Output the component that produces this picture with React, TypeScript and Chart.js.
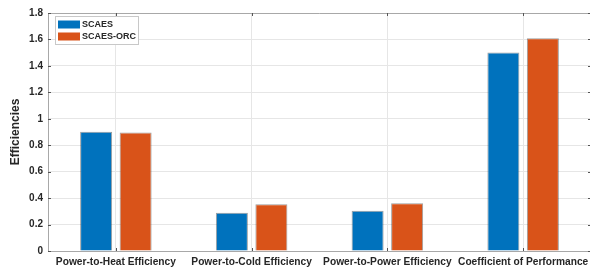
import React, { useEffect, useRef } from "react";
import { Chart, registerables } from "chart.js";

Chart.register(...registerables);

const categories = [
  "Power-to-Heat Efficiency",
  "Power-to-Cold Efficiency",
  "Power-to-Power Efficiency",
  "Coefficient of Performance",
];
const scaesValues = [0.902, 0.289, 0.304, 1.501];
const scaesOrcValues = [0.896, 0.354, 0.362, 1.609];
const seriesNames = ["SCAES", "SCAES-ORC"];
const yTicks = [0, 0.2, 0.4, 0.6, 0.8, 1, 1.2, 1.4, 1.6, 1.8];

const BLUE = "#0072BD";
const ORANGE = "#D95319";
const TEXT = "#262626";
const AXIS = "#a8a8a8";
const GRID = "#e6e6e6";
const FONT = "'Liberation Sans', Arial, Helvetica, sans-serif";

const boxPlugin = {
  id: "boxAndLegend",
  afterDraw(chart: any) {
    const { ctx, chartArea } = chart;
    const { left, right, top, bottom } = chartArea;
    ctx.save();
    ctx.strokeStyle = AXIS;
    ctx.lineWidth = 1;
    ctx.beginPath();
    ctx.moveTo(left, top + 0.5);
    ctx.lineTo(right, top + 0.5);
    ctx.moveTo(right - 0.5, top);
    ctx.lineTo(right - 0.5, bottom);
    ctx.stroke();
    ctx.strokeStyle = "#555";
    const xs = chart.scales.x;
    const ys = chart.scales.y;
    ctx.beginPath();
    for (let i = 0; i < categories.length; i++) {
      const px = Math.round(xs.getPixelForValue(i)) + 0.5;
      ctx.moveTo(px, top);
      ctx.lineTo(px, top + 3);
      ctx.moveTo(px, bottom);
      ctx.lineTo(px, bottom - 3);
    }
    for (const v of yTicks) {
      const py = Math.round(ys.getPixelForValue(v)) + 0.5;
      ctx.moveTo(right, py);
      ctx.lineTo(right - 3, py);
      ctx.moveTo(left, py);
      ctx.lineTo(left + 3, py);
    }
    ctx.stroke();
    const lx = 55, ly = 16, lw = 83, lh = 28;
    ctx.fillStyle = "#ffffff";
    ctx.fillRect(lx, ly, lw, lh);
    ctx.strokeStyle = "#c8c8c8";
    ctx.strokeRect(lx + 0.5, ly + 0.5, lw, lh);
    const colors = [BLUE, ORANGE];
    ctx.font = `bold 9px ${FONT}`;
    ctx.textBaseline = "middle";
    ctx.textAlign = "left";
    chart.data.datasets.forEach((ds: any, i: number) => {
      const sy = ly + 4.5 + i * 12;
      ctx.fillStyle = colors[i];
      ctx.fillRect(lx + 3, sy, 22, 8);
      ctx.fillStyle = TEXT;
      ctx.fillText(ds.label, lx + 27, sy + 4.5);
    });
    ctx.restore();
  },
};

export default function App() {
  const ref = useRef<HTMLCanvasElement | null>(null);
  useEffect(() => {
    if (!ref.current) return;
    const chart = new Chart(ref.current, {
      type: "bar",
      data: {
        labels: categories,
        datasets: [
          {
            label: seriesNames[0],
            data: scaesValues,
            backgroundColor: BLUE,
            borderColor: "rgba(40,40,40,0.45)",
            borderWidth: 1,
            categoryPercentage: 0.582,
            barPercentage: 0.81,
          },
          {
            label: seriesNames[1],
            data: scaesOrcValues,
            backgroundColor: ORANGE,
            borderColor: "rgba(40,40,40,0.45)",
            borderWidth: 1,
            categoryPercentage: 0.582,
            barPercentage: 0.81,
          },
        ],
      },
      options: {
        responsive: false,
        animation: false,
        layout: { padding: { top: 13, right: 9, left: 0, bottom: 0 } },
        plugins: {
          legend: { display: false },
          tooltip: { enabled: false },
        },
        scales: {
          x: {
            grid: { offset: false, color: GRID, drawTicks: false },
            border: { color: AXIS },
            ticks: {
              color: TEXT,
              font: { family: FONT, size: 10.2, weight: "bold" },
              padding: 5,
              maxRotation: 0,
              autoSkip: false,
            },
            afterFit(scale: any) {
              scale.height = 17;
            },
          },
          y: {
            min: 0,
            max: 1.8,
            afterBuildTicks(scale: any) {
              scale.ticks = yTicks.map((v) => ({ value: v }));
            },
            grid: { color: GRID, drawTicks: false },
            border: { color: AXIS },
            ticks: {
              color: TEXT,
              font: { family: FONT, size: 10, weight: "bold" },
              padding: 5,
              callback: (v: any) => String(Math.round(Number(v) * 10) / 10),
            },
            title: {
              display: true,
              text: "Efficiencies",
              color: TEXT,
              font: { family: FONT, size: 12, weight: "bold" },
              padding: { top: 8, bottom: 0 },
            },
            afterFit(scale: any) {
              scale.width = 48;
            },
          },
        },
      },
      plugins: [boxPlugin],
    });
    return () => chart.destroy();
  }, []);
  return (
    <div
      style={{
        position: "fixed",
        left: 0,
        top: 0,
        width: 590,
        height: 268,
        overflow: "hidden",
        background: "#fff",
      }}
    >
      <canvas ref={ref} width={600} height={268} style={{ width: 600, height: 268, display: "block" }} />
    </div>
  );
}
